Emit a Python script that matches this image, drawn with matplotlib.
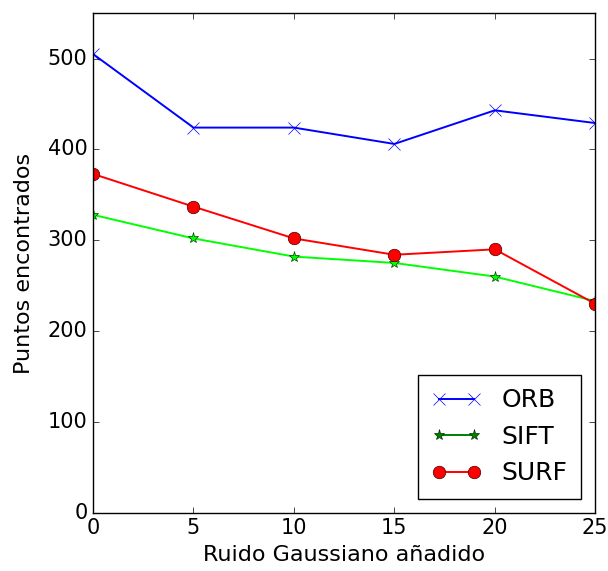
import matplotlib
matplotlib.use("Agg")
import matplotlib.pyplot as plt
from matplotlib.lines import Line2D

plt.style.use("classic")

ruido = [0, 5, 10, 15, 20, 25]
orb = [505, 424, 424, 406, 443, 429]
sift = [328, 302, 282, 275, 260, 233]
surf = [373, 337, 302, 284, 290, 230]
xticks = [0, 5, 10, 15, 20, 25]
yticks = [0, 100, 200, 300, 400, 500]

fig = plt.figure(figsize=(6.08, 5.71), dpi=100, facecolor="white")
ax = fig.add_axes([0.153, 0.102, 0.826, 0.875])

ax.plot(ruido, orb, color="blue", marker="x", markersize=9,
        markeredgecolor="blue", linewidth=1.4)
ax.plot(ruido, sift, color="#00ff00", marker="*", markersize=8,
        markerfacecolor="#00ff00", markeredgecolor="#004000", linewidth=1.4)
ax.plot(ruido, surf, color="red", marker="o", markersize=9,
        markerfacecolor="red", markeredgecolor="#400000", linewidth=1.4)

handles = [
    Line2D([], [], color="blue", marker="x", markersize=9, linewidth=1.4),
    Line2D([], [], color="green", marker="*", markersize=8,
           markerfacecolor="green", markeredgecolor="#003000", linewidth=1.4),
    Line2D([], [], color="red", marker="o", markersize=9,
           markerfacecolor="red", markeredgecolor="#400000", linewidth=1.4),
]
ax.legend(handles, ["ORB", "SIFT", "SURF"], loc="lower right",
          numpoints=2, fontsize=18, frameon=True, fancybox=False,
          handlelength=2.0, borderaxespad=0.55, borderpad=0.55)

ax.set_xlim(0, 25)
ax.set_ylim(0, 550)
ax.set_xticks(xticks)
ax.set_yticks(yticks)
ax.tick_params(labelsize=15, direction="in", top=True, right=True)
ax.set_xlabel("Ruido Gaussiano añadido", fontsize=16)
ax.set_ylabel("Puntos encontrados", fontsize=16, labelpad=10)

fig.savefig("out.png", dpi=100, facecolor="white")
